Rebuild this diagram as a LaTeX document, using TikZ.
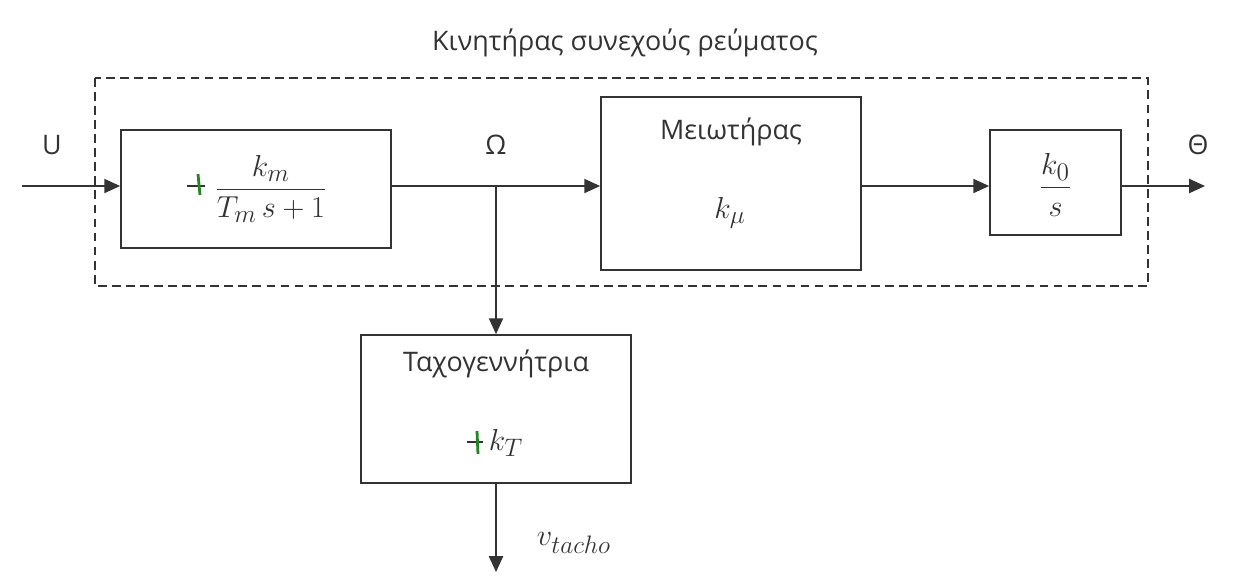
\documentclass[tikz,border=0pt]{standalone}
\usepackage{amsmath}
\usepackage{fontspec}
\setmainfont{Open Sans}
\usetikzlibrary{arrows.meta}
\definecolor{ink}{HTML}{333333}
\definecolor{pen}{HTML}{1E8A1E}

\begin{document}
\begin{tikzpicture}[x=0.02cm,y=-0.02cm,ink,line width=1pt,
    >={Triangle[length=9pt,width=8pt]},
    font=\fontsize{15.3}{18}\selectfont,
    block/.style={draw,fill=white,inner sep=0pt},
    lbl/.style={inner sep=1pt},
    mth/.style={inner sep=1pt,font=\fontsize{19}{22}\selectfont}]
  \useasboundingbox (0,0) rectangle (1237,579);

  \node[lbl] (title) at (625,43) {Κινητήρας συνεχούς ρεύματος};
  \draw[dashed,line width=.9pt,dash pattern=on 5pt off 3pt]
    (95,78) rectangle (1148,286);

  % blocks
  \node[block,minimum width=5.4cm,minimum height=2.36cm] (motor) at (256,189) {};
  \node[block,minimum width=5.2cm,minimum height=3.46cm] (gear) at (731,183.5) {};
  \node[block,minimum width=2.62cm,minimum height=2.1cm] (integ) at (1055.5,182.5) {};
  \node[block,minimum width=5.4cm,minimum height=2.96cm] (tacho) at (496,409) {};

  \node[mth] (motortf) at (271,189) {$\dfrac{k_m}{T_m\,s+1}$};
  \node[lbl] (gearname) at (731,132) {Μειωτήρας};
  \node[mth] (geartf) at (730,213) {$k_\mu$};
  \node[mth] (integtf) at (1055.5,185) {$\dfrac{k_0}{s}$};
  \node[lbl] (tachoname) at (496,364) {Ταχογεννήτρια};
  \node[mth] (tachotf) at (506,443) {$k_T$};

  % pen marks
  \draw[line width=.8pt] (187,186)--(205,186);
  \draw[pen,line width=1.6pt] (198,174)--(200,195);
  \draw[line width=.8pt] (467,442)--(483,442);
  \draw[pen,line width=1.6pt] (477,431)--(478,454);

  % signals
  \coordinate (in) at (22,186);
  \coordinate (om) at (496,186);
  \coordinate (out) at (1205,186);
  \coordinate (vt) at (496,572);
  \node[lbl] (U) at (52,145) {U};
  \node[lbl] (Omega) at (496,145) {Ω};
  \node[lbl] (Theta) at (1198,145) {Θ};
  \node[mth] (vlab) at (574,543) {$v_{tacho}$};

  \draw[->] (in) -- (in -| motor.west);
  \draw (motor.east |- om) -- (om);
  \draw[->] (om) -- (om -| gear.west);
  \draw[->] (gear.east |- om) -- (om -| integ.west);
  \draw[->] (integ.east |- om) -- (out);
  \draw[->] (om) -- (tacho.north);
  \draw[->] (tacho.south) -- (vt);
\end{tikzpicture}
\end{document}
